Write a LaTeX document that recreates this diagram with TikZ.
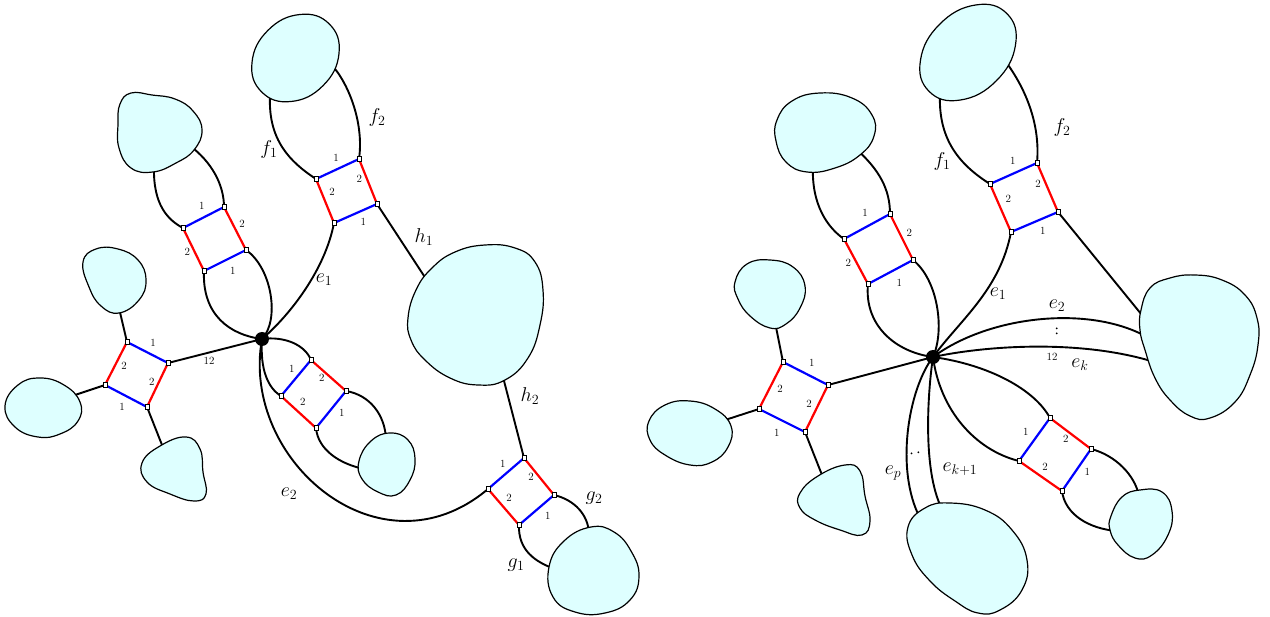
\RequirePackage{fix-cm}
\documentclass[tikz,border=0pt]{standalone}
\definecolor{blobfill}{RGB}{222,255,255}
\pgfdeclarelayer{bg}
\pgfsetlayers{bg,main}
\tikzset{
 conn/.style={line width=1.9pt, draw=black},
 blob/.style={draw=black, line width=1.2pt, fill=blobfill},
 redge/.style={draw=red, line width=2.2pt},
 bedge/.style={draw=blue, line width=2.2pt},
 port/.style={draw=black, fill=white, line width=0.5pt, minimum size=4.5pt, inner sep=0pt, rectangle},
 hub/.style={circle, fill=black, minimum size=14pt, inner sep=0pt},
 lab/.style={font=\fontsize{20}{23}\selectfont, inner sep=0pt},
 num/.style={font=\fontsize{11}{13}\selectfont, inner sep=0pt},
 dotn/.style={circle, fill=black, minimum size=2pt, inner sep=0pt},
 sm/.style={smooth cycle, tension=0.75},
}
\newcommand\quadgad[1]{%
 \draw[bedge] (#11.center) -- (#12.center);
 \draw[redge] (#12.center) -- (#13.center);
 \draw[bedge] (#13.center) -- (#14.center);
 \draw[redge] (#14.center) -- (#11.center);}
\begin{document}
\begin{tikzpicture}[x=1pt,y=-1pt]
\useasboundingbox (0,0) rectangle (1270,617);
% ================= LEFT =================
\node[hub] (V) at (262,339) {};
\node[port] (A1) at (127,342) {};
\node[port] (A2) at (168,363) {};
\node[port] (A3) at (147,407) {};
\node[port] (A4) at (105,385) {};
\node[port] (B1) at (224,207) {};
\node[port] (B2) at (183,228) {};
\node[port] (B3) at (204,271) {};
\node[port] (B4) at (246,250) {};
\node[port] (C1) at (359,159) {};
\node[port] (C2) at (316,179) {};
\node[port] (C3) at (334,223) {};
\node[port] (C4) at (377,204) {};
\node[port] (E1) at (524,458) {};
\node[port] (E2) at (488,489) {};
\node[port] (E3) at (519,525) {};
\node[port] (E4) at (554,495) {};
\node[port] (G1) at (311,360) {};
\node[port] (G2) at (281,396) {};
\node[port] (G3) at (316,428) {};
\node[port] (G4) at (346,391) {};
% blob attachment points
\coordinate (a1) at (119,308);
\coordinate (a2) at (72,396);
\coordinate (a3) at (164,450);
\coordinate (b1) at (154,167);
\coordinate (b2) at (189,145);
\coordinate (c1) at (270,96);
\coordinate (c2) at (331,64);
\coordinate (d1) at (430,285);
\coordinate (d2) at (503,377);
\coordinate (f1) at (589,533);
\coordinate (f2) at (555,569);
\coordinate (h1) at (386,439);
\coordinate (h2) at (364,469);
% ================= RIGHT =================
\node[hub] (W) at (933,357) {};
\node[port] (P1) at (783,362) {};
\node[port] (P2) at (828,385) {};
\node[port] (P3) at (805,432) {};
\node[port] (P4) at (759,409) {};
\node[port] (Q1) at (890,214) {};
\node[port] (Q2) at (844,239) {};
\node[port] (Q3) at (868,284) {};
\node[port] (Q4) at (913,260) {};
\node[port] (R1) at (1037,163) {};
\node[port] (R2) at (990,184) {};
\node[port] (R3) at (1011,232) {};
\node[port] (R4) at (1058,212) {};
\node[port] (S1) at (1050,418) {};
\node[port] (S2) at (1019,461) {};
\node[port] (S3) at (1062,491) {};
\node[port] (S4) at (1091,449) {};
\coordinate (p1) at (775,322);
\coordinate (p2) at (722,421);
\coordinate (p3) at (824,480);
\coordinate (q1) at (813,165);
\coordinate (q2) at (855,148);
\coordinate (r1) at (940,94);
\coordinate (r2) at (1006,62);
\coordinate (dd1) at (1146,320);
\coordinate (dd2) at (1147,337);
\coordinate (dd3) at (1151,361);
\coordinate (hh1) at (1139,496);
\coordinate (hh2) at (1117,531);
\coordinate (ii1) at (920,518);
\coordinate (ii2) at (942,509);

\begin{pgfonlayer}{bg}
% ---- left connectors
\draw[conn] (A1.center) -- (a1);
\draw[conn] (A4.center) -- (a2);
\draw[conn] (A3.center) -- (a3);
\draw[conn] (A2.center) -- (V.center);
\draw[conn] (b1) .. controls (153,205) and (168,220) .. (B2.center);
\draw[conn] (b2) .. controls (212,162) and (224,185) .. (B1.center);
\draw[conn] (B3.center) .. controls (202,315) and (230,335) .. (V.center);
\draw[conn] (B4.center) .. controls (272,268) and (280,320) .. (V.center);
\draw[conn] (c1) .. controls (268,140) and (290,162) .. (C2.center);
\draw[conn] (c2) .. controls (350,85) and (364,125) .. (C1.center);
\draw[conn] (C3.center) .. controls (325,270) and (290,315) .. (V.center);
\draw[conn] (C4.center) -- (d1);
\draw[conn] (d2) -- (E1.center);
\draw[conn] (V.center) .. controls (240,460) and (380,580) .. (E2.center);
\draw[conn] (E4.center) .. controls (575,500) and (588,515) .. (f1);
\draw[conn] (E3.center) .. controls (518,550) and (535,562) .. (f2);
\draw[conn] (V.center) .. controls (285,336) and (305,345) .. (G1.center);
\draw[conn] (V.center) .. controls (260,370) and (268,388) .. (G2.center);
\draw[conn] (G4.center) .. controls (370,395) and (385,415) .. (h1);
\draw[conn] (G3.center) .. controls (318,450) and (340,464) .. (h2);
% ---- right connectors
\draw[conn] (P1.center) -- (p1);
\draw[conn] (P4.center) -- (p2);
\draw[conn] (P3.center) -- (p3);
\draw[conn] (P2.center) -- (W.center);
\draw[conn] (q1) .. controls (811,205) and (828,228) .. (Q2.center);
\draw[conn] (q2) .. controls (880,170) and (890,190) .. (Q1.center);
\draw[conn] (Q3.center) .. controls (864,325) and (895,352) .. (W.center);
\draw[conn] (Q4.center) .. controls (938,280) and (945,330) .. (W.center);
\draw[conn] (r1) .. controls (938,140) and (960,165) .. (R2.center);
\draw[conn] (r2) .. controls (1030,95) and (1040,130) .. (R1.center);
\draw[conn] (R3.center) .. controls (1000,290) and (960,320) .. (W.center);
\draw[conn] (R4.center) -- (dd1);
\draw[conn] (W.center) .. controls (990,315) and (1090,305) .. (dd2);
\draw[conn] (W.center) .. controls (990,345) and (1080,340) .. (dd3);
\draw[conn] (W.center) .. controls (990,365) and (1035,390) .. (S1.center);
\draw[conn] (W.center) .. controls (940,410) and (975,450) .. (S2.center);
\draw[conn] (S4.center) .. controls (1115,455) and (1135,475) .. (hh1);
\draw[conn] (S3.center) .. controls (1065,515) and (1090,529) .. (hh2);
\draw[conn] (W.center) .. controls (908,390) and (895,470) .. (ii1);
\draw[conn] (W.center) .. controls (928,390) and (922,470) .. (ii2);
% ---- blobs left
\draw[blob] plot[sm] coordinates {(83,262) (96,249) (118,249) (138,260) (146,280) (139,300) (119,313) (101,306) (89,287)};
\draw[blob] plot[sm] coordinates {(5,406) (18,385) (40,378) (64,385) (80,402) (78,421) (60,434) (38,437) (15,427)};
\draw[blob] plot[sm] coordinates {(142,463) (160,446) (186,437) (200,449) (203,472) (206,494) (194,501) (170,494) (147,482)};
\draw[blob] plot[sm] coordinates {(120,104) (131,93) (152,95) (175,99) (193,111) (202,130) (194,150) (176,163) (153,172) (131,168) (119,148) (118,124)};
\draw[blob] plot[sm] coordinates {(329.4,24.1) (339,53.5) (323.1,85.6) (291,101.5) (261.6,91.9) (252,62.5) (267.9,30.4) (300,14.5)};
\draw[blob] plot[sm] coordinates {(408,318) (416,290) (432,268) (455,252) (485,245) (515,248) (535,262) (543,290) (540,325) (528,358) (505,380) (478,385) (450,378) (425,360) (411,340)};
\draw[blob] plot[sm] coordinates {(549,567) (564,541) (591,527) (614,532) (631,551) (639,576) (630,600) (605,613) (575,612) (553,597)};
\draw[blob] plot[sm] coordinates {(359,461) (371,441) (390,433) (408,440) (415,459) (410,480) (396,495) (378,492) (362,479)};
% ---- blobs right
\draw[blob] plot[sm] coordinates {(735,282) (747,264) (770,260) (793,267) (805,286) (800,308) (786,324) (770,328) (750,316) (738,299)};
\draw[blob] plot[sm] coordinates {(649,421) (665,405) (690,401) (715,409) (731,426) (728,447) (712,462) (690,465) (665,455) (650,440)};
\draw[blob] plot[sm] coordinates {(800,493) (818,476) (845,465) (860,471) (865,496) (870,521) (862,535) (840,530) (815,520) (800,508)};
\draw[blob] plot[sm] coordinates {(777,120) (792,101) (820,93) (852,98) (872,115) (874,136) (860,155) (835,168) (807,172) (786,162) (776,141)};
\draw[blob] plot[sm] coordinates {(1006.9,13.6) (1015.5,45) (996.3,80.8) (960.5,100) (929.1,91.4) (920.5,60) (939.7,24.2) (975.5,5)};
\draw[blob] plot[sm] coordinates {(1141,310) (1150,288) (1170,278) (1195,275) (1222,280) (1245,295) (1257,318) (1258,345) (1250,375) (1235,402) (1210,418) (1190,416) (1170,400) (1155,378) (1145,350) (1140,330)};
\draw[blob] plot[sm] coordinates {(1111,516) (1122,497) (1140,490) (1162,492) (1172,511) (1168,535) (1152,555) (1135,558) (1118,545) (1110,530)};
\draw[blob] plot[sm] coordinates {(908,527) (925,508) (950,503) (985,510) (1012,530) (1027,560) (1022,590) (1000,610) (978,613) (955,601) (930,581) (912,555)};
% ---- gadget edges
\quadgad{A}\quadgad{B}\quadgad{C}\quadgad{E}\quadgad{G}
\quadgad{P}\quadgad{Q}\quadgad{R}\quadgad{S}
\end{pgfonlayer}

% ---- labels left
\node[num] (lA1) at (153,343) {1};
\node[num] (lA2) at (151.7,381.7) {2};
\node[num] (lA3) at (122,407) {1};
\node[num] (lA4) at (124,366) {2};
\node[num] (lB1) at (201.7,205.7) {1};
\node[num] (lB2) at (187.3,251.7) {2};
\node[num] (lB3) at (232.7,270.7) {1};
\node[num] (lB4) at (242,224.3) {2};
\node[num] (lC1) at (336,157.7) {1};
\node[num] (lC2) at (332,192.3) {2};
\node[num] (lC3) at (363.3,221.7) {1};
\node[num] (lC4) at (359.3,179.3) {2};
\node[num] (lE1) at (502.7,464.3) {1};
\node[num] (lE2) at (509,498.3) {2};
\node[num] (lE3) at (547.7,515.7) {1};
\node[num] (lE4) at (531,477.3) {2};
\node[num] (lG1) at (291.7,369.3) {1};
\node[num] (lG2) at (302.7,401.7) {2};
\node[num] (lG3) at (341.7,412.7) {1};
\node[num] (lG4) at (321.7,378.3) {2};
\node[num] (l12a) at (209,361) {12};
\node[lab] (lf1) at (269,150) {$f_1$};
\node[lab] (lf2) at (377,118) {$f_2$};
\node[lab] (le1) at (324,280) {$e_1$};
\node[lab] (lh1) at (424,237) {$h_1$};
\node[lab] (lh2) at (530,396) {$h_2$};
\node[lab] (le2) at (289,494) {$e_2$};
\node[lab] (lg2) at (594,498) {$g_2$};
\node[lab] (lg1) at (516,565) {$g_1$};
% ---- labels right
\node[num] (lP1) at (811.7,363.3) {1};
\node[num] (lP2) at (809,404) {2};
\node[num] (lP3) at (776.7,432.7) {1};
\node[num] (lP4) at (780,389.3) {2};
\node[num] (lQ1) at (865,212.7) {1};
\node[num] (lQ2) at (848.3,263.3) {2};
\node[num] (lQ3) at (899.3,283.3) {1};
\node[num] (lQ4) at (909.3,233.3) {2};
\node[num] (lR1) at (1012.7,161.3) {1};
\node[num] (lR2) at (1008.3,199.3) {2};
\node[num] (lR3) at (1042.7,231) {1};
\node[num] (lR4) at (1038,183.7) {2};
\node[num] (lS1) at (1025.7,432.3) {1};
\node[num] (lS2) at (1045,467.3) {2};
\node[num] (lS3) at (1087.3,472.3) {1};
\node[num] (lS4) at (1065.7,439.3) {2};
\node[num] (l12b) at (1052,357) {12};
\node[lab] (rf1) at (942,162) {$f_1$};
\node[lab] (rf2) at (1062,128) {$f_2$};
\node[lab] (re1) at (998,294) {$e_1$};
\node[lab] (re2) at (1057,306) {$e_2$};
\node[lab] (rek) at (1080,365) {$e_k$};
\node[lab] (rep) at (893,473) {$e_p$};
\node[lab] (rek1) at (960,469) {$e_{k+1}$};
\node[dotn] (vd1) at (1056.7,328.3) {};
\node[dotn] (vd2) at (1056.7,333.3) {};
\node[dotn] (hd1) at (911.5,453.3) {};
\node[dotn] (hd2) at (918.3,452.3) {};
\end{tikzpicture}
\end{document}
